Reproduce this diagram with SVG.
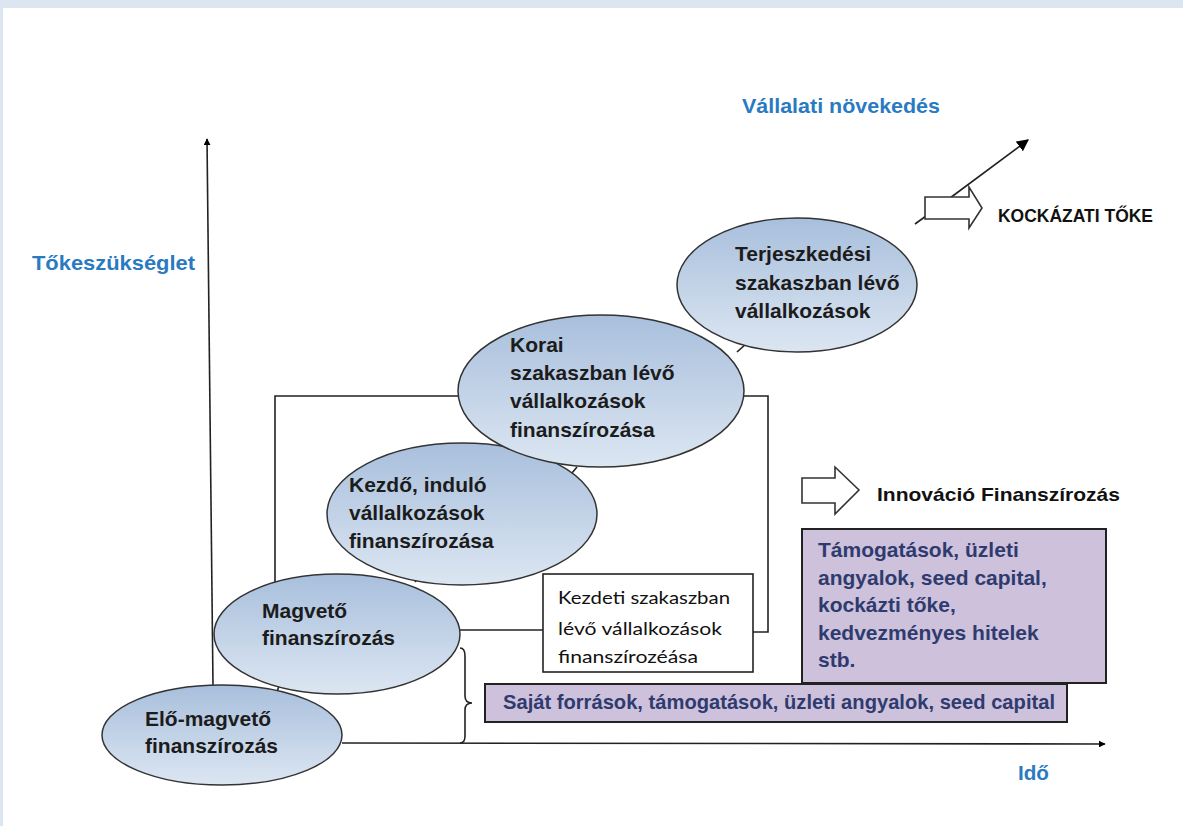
<svg xmlns="http://www.w3.org/2000/svg" width="1183" height="826" viewBox="0 0 1183 826">
<defs>
<linearGradient id="eg" x1="0" y1="0" x2="0" y2="1">
<stop offset="0" stop-color="#a8bfdc"/>
<stop offset="1" stop-color="#dce6f2"/>
</linearGradient>
<marker id="ah" viewBox="0 0 10 10" refX="9" refY="5" markerWidth="7" markerHeight="7" markerUnits="userSpaceOnUse" orient="auto">
<path d="M0,0 L10,5 L0,10 z" fill="#000"/>
</marker>
<marker id="ahb" viewBox="0 0 10 10" refX="9" refY="5" markerWidth="12" markerHeight="12" markerUnits="userSpaceOnUse" orient="auto">
<path d="M0,0 L10,5 L0,10 z" fill="#000"/>
</marker>
<style>
.ell{fill:url(#eg);stroke:#333;stroke-width:1.5}
.et{font-family:"Liberation Sans",Arial,sans-serif;font-weight:bold;font-size:21px;fill:#1c1c1c}
.blue{font-family:"Liberation Sans",Arial,sans-serif;font-weight:bold;font-size:21px;fill:#2a7ac2}
.ln{stroke:#222;stroke-width:1.6;fill:none}
.pbox{fill:#cdc1dc;stroke:#222;stroke-width:2}
.pt{font-family:"Liberation Sans",Arial,sans-serif;font-weight:bold;font-size:21px;fill:#2f3b6e}
.bk{font-family:"Liberation Sans",Arial,sans-serif;font-weight:bold;fill:#111}
.hol{fill:#fff;stroke:#333;stroke-width:1.6}
.kt{font-family:Lato,"Noto Sans",sans-serif;font-size:18px;fill:#111}
</style>
</defs>
<rect x="0" y="0" width="1183" height="826" fill="#fff"/>
<rect x="0" y="0" width="1183" height="8" fill="#dce6f1"/>
<rect x="0" y="0" width="3" height="826" fill="#dce6f1"/>

<g id="labels">
<text class="blue" x="742" y="113" textLength="198" lengthAdjust="spacingAndGlyphs">Vállalati növekedés</text>
<text class="blue" x="32" y="270" textLength="163" lengthAdjust="spacingAndGlyphs">Tőkeszükséglet</text>
<text class="blue" x="1018" y="780" textLength="31" lengthAdjust="spacingAndGlyphs">Idő</text>
</g>

<g id="connectors">
<line class="ln" x1="213" y1="685" x2="207" y2="139" marker-end="url(#ah)"/>
<line class="ln" x1="342" y1="743" x2="1105" y2="744" marker-end="url(#ah)"/>
<line class="ln" x1="950" y1="198" x2="1028" y2="140" marker-end="url(#ahb)"/>
<polyline class="ln" points="275,586 275,396 460,396"/>
<polyline class="ln" points="744,396 768,396 768,632 753,632"/>
<line class="ln" x1="460" y1="630" x2="543" y2="630"/>
<path class="ln" d="M460,648 Q465,648 465,656 L465,696 Q465,703 472,703 Q465,703 465,710 L465,736 Q465,743 460,743"/>
<line class="ln" x1="277" y1="692" x2="279" y2="686"/>
<line class="ln" x1="415" y1="582" x2="420" y2="576"/>
<line class="ln" x1="572" y1="473" x2="577" y2="467"/>
<line class="ln" x1="737" y1="352" x2="746" y2="344"/>
<line class="ln" x1="915" y1="224" x2="926" y2="216"/>
</g>

<g id="n-elo">
<ellipse class="ell" cx="222" cy="735" rx="120" ry="50"/>
<text class="et" x="145" y="726">Elő-magvető</text>
<text class="et" x="145" y="753">finanszírozás</text>
</g>
<g id="n-magveto">
<ellipse class="ell" cx="337" cy="634" rx="123" ry="60"/>
<text class="et" x="262" y="618">Magvető</text>
<text class="et" x="262" y="645">finanszírozás</text>
</g>
<g id="n-kezdo">
<ellipse class="ell" cx="462" cy="514" rx="135" ry="71"/>
<text class="et" x="349" y="492">Kezdő, induló</text>
<text class="et" x="349" y="520">vállalkozások</text>
<text class="et" x="349" y="548">finanszírozása</text>
</g>
<g id="n-korai">
<ellipse class="ell" cx="601" cy="391" rx="143" ry="76"/>
<text class="et" x="510" y="352">Korai</text>
<text class="et" x="510" y="380">szakaszban lévő</text>
<text class="et" x="510" y="408">vállalkozások</text>
<text class="et" x="510" y="437">finanszírozása</text>
</g>
<g id="n-terj">
<ellipse class="ell" cx="797" cy="285" rx="120" ry="67"/>
<text class="et" x="735" y="261">Terjeszkedési</text>
<text class="et" x="735" y="290">szakaszban lévő</text>
<text class="et" x="735" y="318">vállalkozások</text>
</g>

<g id="n-kockazati">
<polygon class="hol" points="925,197 969,197 969,187 982,208 969,228 969,219 925,219"/>
<text class="bk" x="998" y="222" font-size="18" textLength="155" lengthAdjust="spacingAndGlyphs">KOCKÁZATI TŐKE</text>
</g>

<g id="n-innovacio">
<polygon class="hol" points="802,478 835,478 835,467 859,490 835,514 835,503 802,503"/>
<text class="bk" x="877" y="501" font-size="19" textLength="243" lengthAdjust="spacingAndGlyphs">Innováció Finanszírozás</text>
</g>

<g id="n-kezdeti">
<rect x="543" y="574" width="210" height="98" fill="#fff" stroke="#222" stroke-width="1.6"/>
<text class="kt" x="558" y="604" textLength="172" lengthAdjust="spacingAndGlyphs">Kezdeti szakaszban</text>
<text class="kt" x="558" y="635" textLength="164" lengthAdjust="spacingAndGlyphs">lévő vállalkozások</text>
<text class="kt" x="558" y="663" textLength="140" lengthAdjust="spacingAndGlyphs">finanszírozéása</text>
</g>

<g id="n-tamogatasok">
<rect class="pbox" x="802" y="529" width="304" height="154"/>
<text class="pt" x="818" y="557">Támogatások, üzleti</text>
<text class="pt" x="818" y="585">angyalok, seed capital,</text>
<text class="pt" x="818" y="612">kockázti tőke,</text>
<text class="pt" x="818" y="640">kedvezményes hitelek</text>
<text class="pt" x="818" y="667">stb.</text>
</g>

<g id="n-sajat">
<rect class="pbox" x="485" y="684" width="582" height="38"/>
<text class="pt" x="503" y="709" font-size="20" textLength="552" lengthAdjust="spacingAndGlyphs">Saját források, támogatások, üzleti angyalok, seed capital</text>
</g>
</svg>
